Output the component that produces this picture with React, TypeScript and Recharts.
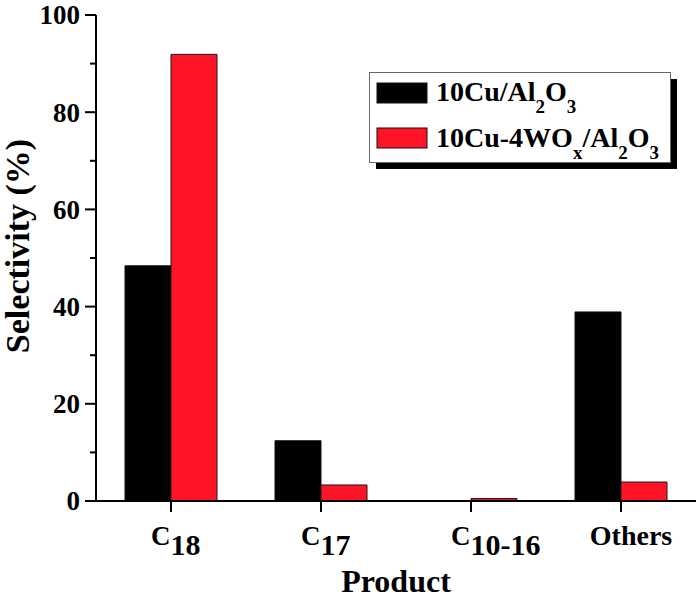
import React from "react";
import { BarChart, Bar, XAxis, YAxis, Legend } from "recharts";

const categories = ["C18", "C17", "C10-16", "Others"];
const categoryMain = ["C", "C", "C", "Others"];
const categorySub = ["18", "17", "10-16", ""];

const cuAl = [48.4, 12.4, 0.1, 38.9];
const cuWAl = [91.9, 3.3, 0.5, 3.9];

const yTicks = [0, 10, 20, 30, 40, 50, 60, 70, 80, 90, 100];

const seriesKeys = ["cuAl", "cuWAl"];
// legend names, split so the subscripts can be drawn as tspans
const legendNames = [
  [
    { t: "10Cu/Al" },
    { t: "2", sub: true },
    { t: "O" },
    { t: "3", sub: true },
  ],
  [
    { t: "10Cu-4WO" },
    { t: "x", sub: true },
    { t: "/Al" },
    { t: "2", sub: true },
    { t: "O" },
    { t: "3", sub: true },
  ],
];

const data = categories.map((c, i) => ({
  name: c,
  cuAl: cuAl[i],
  cuWAl: cuWAl[i],
}));

const FONT = '"Liberation Serif", "Times New Roman", Times, serif';

const YTick = (props: any) => {
  const { x, y, payload } = props;
  const major = payload.value % 20 === 0;
  return (
    <g>
      <line
        x1={x - (major ? 11 : 6)}
        x2={x}
        y1={y}
        y2={y}
        stroke="#000"
        strokeWidth={2}
      />
      {major && (
        <text
          x={x - 16}
          y={y}
          dy="0.35em"
          textAnchor="end"
          fontFamily={FONT}
          fontWeight="bold"
          fontSize={27}
          fill="#000"
        >
          {payload.value}
        </text>
      )}
    </g>
  );
};

const XTick = (props: any) => {
  const { x, y, payload } = props;
  const i = categories.indexOf(payload.value);
  const sub = categorySub[i];
  if (!sub) {
    return (
      <text
        x={x + 10}
        y={y + 33}
        textAnchor="middle"
        fontFamily={FONT}
        fontWeight="bold"
        fontSize={28}
        fill="#000"
      >
        {categoryMain[i]}
      </text>
    );
  }
  return (
    <text
      x={x - 20}
      y={y + 33}
      textAnchor="start"
      fontFamily={FONT}
      fontWeight="bold"
      fontSize={27}
      fill="#000"
    >
      {categoryMain[i]}
      <tspan dy={10} fontSize={30}>
        {sub}
      </tspan>
    </text>
  );
};

const YLabel = (props: any) => {
  const { viewBox } = props;
  const lx = viewBox.x + 29;
  const ly = viewBox.y + viewBox.height / 2 - 12;
  return (
    <text
      x={lx}
      y={ly}
      transform={`rotate(-90, ${lx}, ${ly})`}
      textAnchor="middle"
      fontFamily={FONT}
      fontWeight="bold"
      fontSize={34}
      fill="#000"
    >
      Selectivity (%)
    </text>
  );
};

const XLabel = (props: any) => {
  const { viewBox } = props;
  return (
    <text
      x={viewBox.x + viewBox.width / 2}
      y={viewBox.y + viewBox.height - 9}
      textAnchor="middle"
      fontFamily={FONT}
      fontWeight="bold"
      fontSize={32}
      fill="#000"
    >
      Product
    </text>
  );
};

const LegendBox = (props: any) => {
  const payload = props.payload || [];
  const entries = seriesKeys.map((k) => payload.find((p: any) => p.dataKey === k));
  return (
    <svg width={320} height={105} style={{ display: "block" }}>
      <rect x={7} y={7} width={301} height={90} fill="#000" />
      <rect
        x={0.5}
        y={0.5}
        width={301}
        height={90}
        fill="#fff"
        stroke="#666"
        strokeWidth={1}
      />
      {entries.map((entry: any, i: number) => (
        <g key={i}>
          <rect
            x={8}
            y={11 + i * 45}
            width={50}
            height={20}
            fill={entry ? entry.color : "#000"}
            stroke="#111"
            strokeWidth={1}
          />
          <text
            x={67}
            y={29 + i * 46}
            fontFamily={FONT}
            fontWeight="bold"
            fontSize={28}
            fill="#000"
          >
            {legendNames[i].map((seg, k) => {
              const prev = k > 0 && legendNames[i][k - 1].sub;
              const dy = seg.sub ? (prev ? 0 : 12) : prev ? -12 : 0;
              return (
                <tspan key={k} dy={dy} fontSize={seg.sub ? 19 : 28}>
                  {seg.t}
                </tspan>
              );
            })}
          </text>
        </g>
      ))}
    </svg>
  );
};

export default function App() {
  return (
    <div
      style={{
        position: "absolute",
        left: 0,
        top: 0,
        width: 700,
        height: 601,
        background: "#fff",
        fontFamily: FONT,
      }}
    >
      <BarChart
        width={700}
        height={601}
        data={data}
        margin={{ top: 15, right: 4, bottom: 0, left: 0 }}
        barCategoryGap={29}
        barGap={0}
      >
        <XAxis
          dataKey="name"
          height={100}
          axisLine={{ stroke: "#000", strokeWidth: 2 }}
          tickLine={{ stroke: "#000", strokeWidth: 2 }}
          tickSize={11}
          tickMargin={0}
          tick={<XTick />}
          interval={0}
          label={<XLabel />}
        />
        <YAxis
          width={96}
          domain={[0, 100]}
          ticks={yTicks}
          interval={0}
          axisLine={{ stroke: "#000", strokeWidth: 2 }}
          tickLine={false}
          tickSize={0}
          tickMargin={0}
          tick={<YTick />}
          label={<YLabel />}
        />
        <Legend
          layout="horizontal"
          verticalAlign="middle"
          align="center"
          content={<LegendBox />}
          wrapperStyle={{
            position: "absolute",
            left: 369,
            top: 72,
            width: 320,
            height: 105,
          }}
        />
        <Bar
          dataKey="cuAl"
          name="10Cu/Al2O3"
          fill="#000"
          stroke="#111"
          strokeWidth={1}
          isAnimationActive={false}
        />
        <Bar
          dataKey="cuWAl"
          name="10Cu-4WOx/Al2O3"
          fill="#FF1427"
          stroke="#1a1a1a"
          strokeWidth={1}
          isAnimationActive={false}
        />
      </BarChart>
    </div>
  );
}
